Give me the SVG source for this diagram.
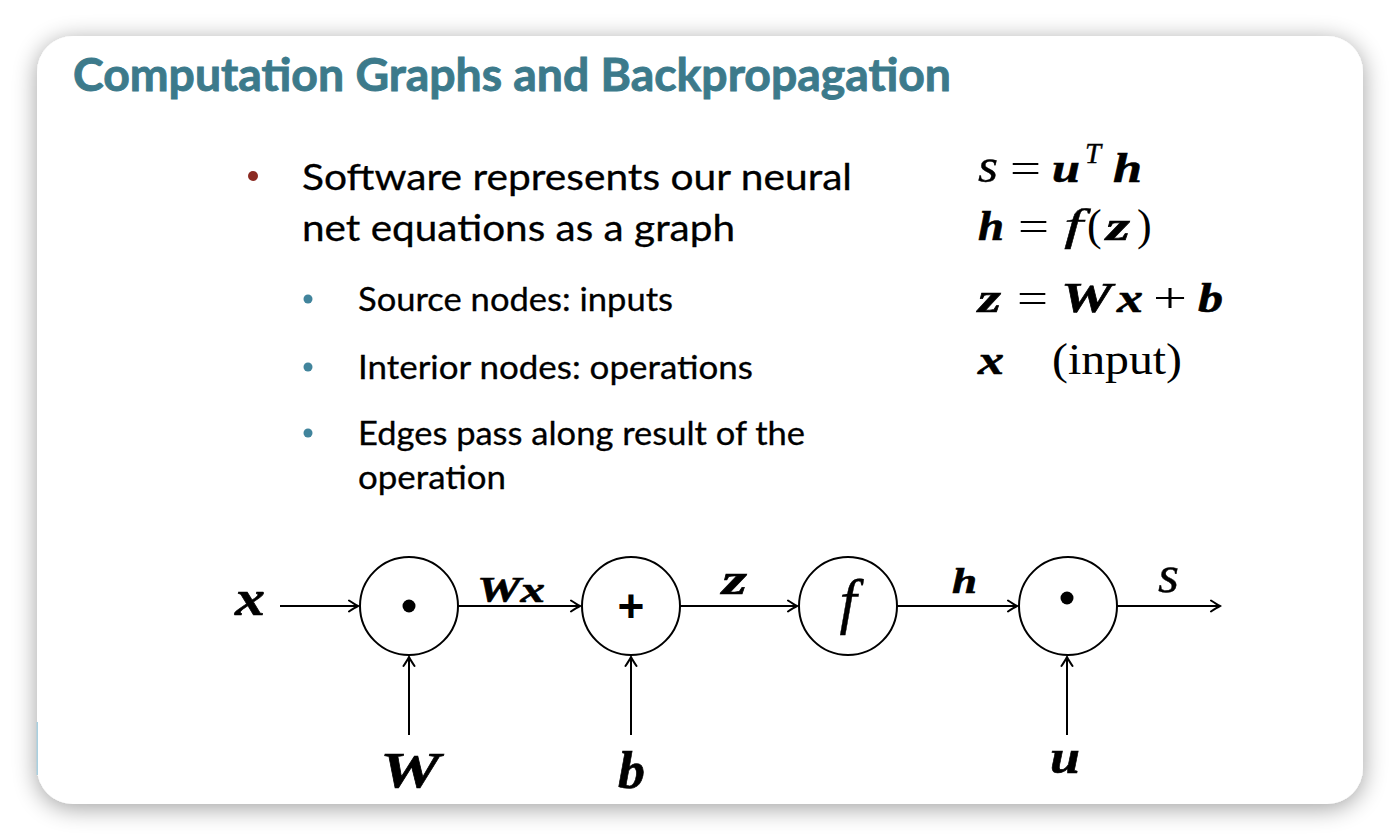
<svg xmlns="http://www.w3.org/2000/svg" width="1400" height="840" viewBox="0 0 1400 840">
  <defs>
    <filter id="shadow" x="-10%" y="-10%" width="120%" height="125%">
      <feGaussianBlur in="SourceAlpha" stdDeviation="12"/>
      <feOffset dx="0" dy="4" result="b"/>
      <feComponentTransfer><feFuncA type="linear" slope="0.38"/></feComponentTransfer>
      <feMerge><feMergeNode/><feMergeNode in="SourceGraphic"/></feMerge>
    </filter>
    <marker id="arr" viewBox="-11 -7 13 14" refX="0" refY="0" markerWidth="13" markerHeight="14" markerUnits="userSpaceOnUse" orient="auto">
      <path d="M-9,-5.5 Q-3,-1.5 0,0 Q-3,1.5 -9,5.5" fill="none" stroke="#000" stroke-width="2" stroke-linecap="round"/>
    </marker>
    <style>
      .title{font-family:Lato,"Open Sans",sans-serif;font-weight:bold;font-size:46px;fill:#3c7a8b;stroke:#3c7a8b;stroke-width:0.9px}
      .main{font-family:Lato,"Open Sans",sans-serif;font-size:37px;fill:#000;stroke:#000;stroke-width:0.3px}
      .sub{font-family:Lato,"Open Sans",sans-serif;font-size:32px;fill:#000;stroke:#000;stroke-width:0.3px}
      .m{font-family:"Liberation Serif","DejaVu Serif",serif;fill:#000}
      .bi{font-weight:bold;font-style:italic;stroke:#000;stroke-width:0.6px}
      .it{font-style:italic;stroke:#000;stroke-width:0.4px}
      .node{fill:#fff;stroke:#000;stroke-width:2}
      .edge{stroke:#000;stroke-width:2;fill:none;marker-end:url(#arr)}
    </style>
  </defs>

  <rect x="0" y="0" width="1400" height="840" fill="#ffffff"/>
  <rect x="37" y="36" width="1326" height="768" rx="36" ry="36" fill="#ffffff" filter="url(#shadow)"/>
  <rect x="36.5" y="722" width="1.5" height="53" fill="#a9d0e0"/>

  <text class="title" x="73" y="91" textLength="878" lengthAdjust="spacingAndGlyphs">Computation Graphs and Backpropagation</text>

  <!-- bullets -->
  <circle cx="253" cy="176" r="5" fill="#8b2a22"/>
  <text class="main" x="302" y="190" textLength="550" lengthAdjust="spacingAndGlyphs">Software represents our neural</text>
  <text class="main" x="302" y="241" textLength="433" lengthAdjust="spacingAndGlyphs">net equations as a graph</text>

  <circle cx="308" cy="299" r="4.5" fill="#41849c"/>
  <text class="sub" x="358" y="311" textLength="315" lengthAdjust="spacingAndGlyphs">Source nodes: inputs</text>
  <circle cx="308" cy="367" r="4.5" fill="#41849c"/>
  <text class="sub" x="358" y="379" textLength="395" lengthAdjust="spacingAndGlyphs">Interior nodes: operations</text>
  <circle cx="308" cy="433" r="4.5" fill="#41849c"/>
  <text class="sub" x="358" y="445" textLength="447" lengthAdjust="spacingAndGlyphs">Edges pass along result of the</text>
  <text class="sub" x="358" y="489" textLength="148" lengthAdjust="spacingAndGlyphs">operation</text>

  <!-- equations -->
  <g id="equations" class="m" font-size="42">
    <text class="it" x="978" y="182" font-size="48" textLength="20" lengthAdjust="spacingAndGlyphs">s</text>
    <text x="1010" y="182" textLength="31" lengthAdjust="spacingAndGlyphs">=</text>
    <text class="bi" x="1052" y="182" textLength="28" lengthAdjust="spacingAndGlyphs">u</text>
    <text class="it" x="1085" y="163" font-size="29" textLength="16" lengthAdjust="spacingAndGlyphs">T</text>
    <text class="bi" x="1113" y="182" textLength="29" lengthAdjust="spacingAndGlyphs">h</text>

    <text class="bi" x="978" y="240" textLength="26" lengthAdjust="spacingAndGlyphs">h</text>
    <text x="1018" y="240" textLength="31" lengthAdjust="spacingAndGlyphs">=</text>
    <text class="it" x="1064" y="240" font-size="44" textLength="19" lengthAdjust="spacingAndGlyphs">f</text>
    <text x="1087" y="240" font-size="44">(</text>
    <text class="bi" x="1106" y="240" textLength="24" lengthAdjust="spacingAndGlyphs">z</text>
    <text x="1137" y="240" font-size="44">)</text>

    <text class="bi" x="978" y="312" textLength="23" lengthAdjust="spacingAndGlyphs">z</text>
    <text x="1017" y="312" textLength="31" lengthAdjust="spacingAndGlyphs">=</text>
    <text class="bi" x="1061" y="312" textLength="51" lengthAdjust="spacingAndGlyphs">W</text>
    <text class="bi" x="1117" y="312" textLength="26" lengthAdjust="spacingAndGlyphs">x</text>
    <text x="1153" y="312" textLength="34" lengthAdjust="spacingAndGlyphs">+</text>
    <text class="bi" x="1198" y="312" textLength="25" lengthAdjust="spacingAndGlyphs">b</text>

    <text class="bi" x="978" y="374" textLength="26" lengthAdjust="spacingAndGlyphs">x</text>
    <text x="1052" y="374" font-size="44" textLength="130" lengthAdjust="spacingAndGlyphs">(input)</text>
  </g>

  <!-- connectors -->
  <g id="connectors">
    <line class="edge" x1="280" y1="606" x2="358" y2="606"/>
    <line class="edge" x1="458" y1="606" x2="580" y2="606"/>
    <line class="edge" x1="680" y1="606" x2="797" y2="606"/>
    <line class="edge" x1="897" y1="606" x2="1017" y2="606"/>
    <line class="edge" x1="1117" y1="606" x2="1220" y2="606"/>
    <line class="edge" x1="409" y1="735" x2="409" y2="657"/>
    <line class="edge" x1="631" y1="735" x2="631" y2="657"/>
    <line class="edge" x1="1067" y1="735" x2="1067" y2="657"/>
    <text class="m bi" x="477" y="602" font-size="35" textLength="68" lengthAdjust="spacingAndGlyphs">Wx</text>
    <text class="m bi" x="722" y="594" font-size="44" textLength="25" lengthAdjust="spacingAndGlyphs">z</text>
    <text class="m bi" x="952" y="593" font-size="35" textLength="25" lengthAdjust="spacingAndGlyphs">h</text>
    <text class="m it" x="1158" y="592" font-size="52" textLength="21" lengthAdjust="spacingAndGlyphs">s</text>
  </g>

  <!-- nodes -->
  <g id="node-x"><text class="m bi" x="235" y="615" font-size="50" textLength="30" lengthAdjust="spacingAndGlyphs">x</text></g>
  <g id="node-W"><text class="m bi" x="380" y="787" font-size="50" textLength="60" lengthAdjust="spacingAndGlyphs">W</text></g>
  <g id="node-b"><text class="m bi" x="618" y="788" font-size="53" textLength="27" lengthAdjust="spacingAndGlyphs">b</text></g>
  <g id="node-u"><text class="m bi" x="1050" y="773" font-size="48" textLength="30" lengthAdjust="spacingAndGlyphs">u</text></g>

  <g id="node-mul1">
    <circle class="node" cx="409" cy="606" r="49"/>
    <circle cx="409" cy="606" r="6.5" fill="#000"/>
  </g>
  <g id="node-add">
    <circle class="node" cx="631" cy="606" r="49"/>
    <text x="631" y="622" font-family="'Liberation Sans',Arial,sans-serif" font-weight="bold" font-size="46" text-anchor="middle">+</text>
  </g>
  <g id="node-f">
    <circle class="node" cx="848" cy="606" r="49"/>
    <text class="m it" x="848" y="622" font-size="62" text-anchor="middle">f</text>
  </g>
  <g id="node-mul2">
    <circle class="node" cx="1068" cy="606" r="49"/>
    <circle cx="1067" cy="598" r="6.5" fill="#000"/>
  </g>
</svg>
